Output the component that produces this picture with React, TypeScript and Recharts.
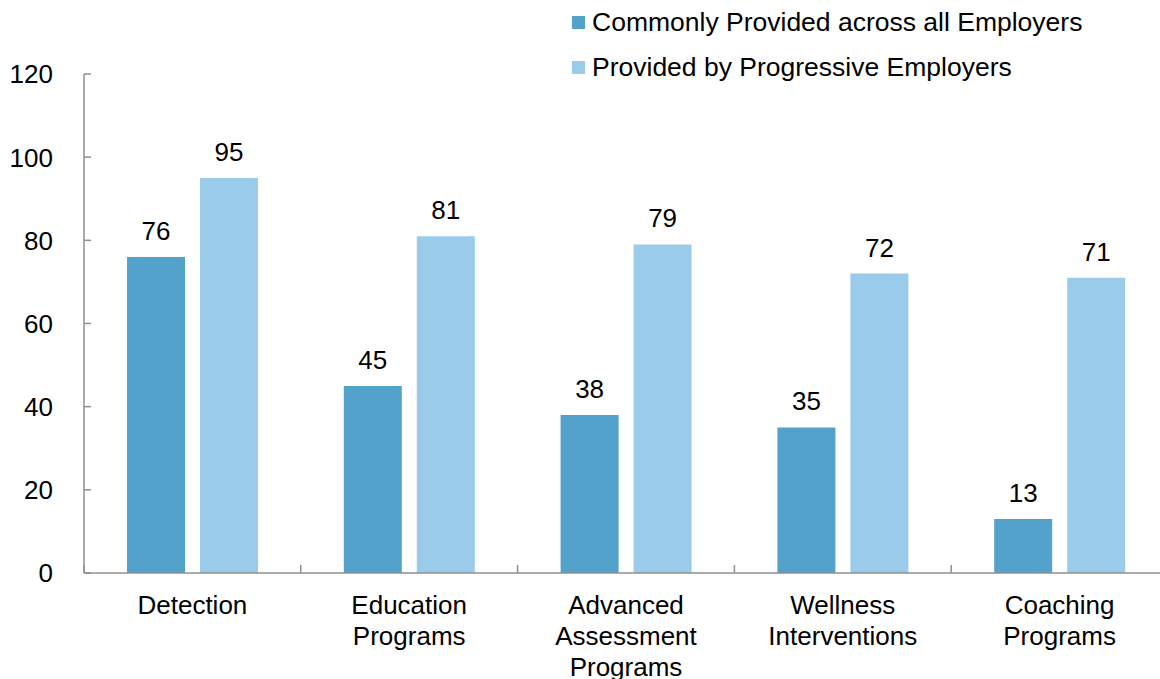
import { BarChart, Bar, XAxis, YAxis, Legend, LabelList } from 'recharts'

const categories = [
  'Detection',
  'Education\nPrograms',
  'Advanced\nAssessment\nPrograms',
  'Wellness\nInterventions',
  'Coaching\nPrograms',
]
const commonValues = [76, 45, 38, 35, 13]
const progressiveValues = [95, 81, 79, 72, 71]
const yTicks = [0, 20, 40, 60, 80, 100, 120]

const COMMON = '#52A2CC'
const PROGRESSIVE = '#9BCBEB'
const AXIS = '#8f8f8f'
const FONT = '"Liberation Sans", Arial, sans-serif'
const AXIS_X = 84
const BAND = 216.8

const data = categories.map((name, i) => ({
  name,
  common: commonValues[i],
  progressive: progressiveValues[i],
}))

function YTick({ y, payload }: any) {
  return (
    <g>
      <line x1={AXIS_X} x2={AXIS_X + 7} y1={y} y2={y} stroke={AXIS} strokeWidth={1.5} />
      <text x={53} y={y} dy="0.36em" textAnchor="end" fontSize={26} fill="#000" fontFamily={FONT}>
        {payload.value}
      </text>
    </g>
  )
}

// y here is the axis line + 8 (default tick size + margin)
function XTick({ x, y, payload }: any) {
  const lines = String(payload.value).split('\n')
  const left = x - BAND / 2
  const axisY = y - 8
  return (
    <g>
      <line x1={left} x2={left} y1={axisY} y2={axisY - 8} stroke={AXIS} strokeWidth={1.5} />
      <text x={x} y={axisY + 41} textAnchor="middle" fontSize={26} fill="#000" fontFamily={FONT}>
        {lines.map((l, i) => (
          <tspan key={i} x={x} dy={i === 0 ? 0 : 31}>
            {l}
          </tspan>
        ))}
      </text>
    </g>
  )
}

function LegendBox({ payload }: any) {
  return (
    <div style={{ fontFamily: FONT, fontSize: 26.5, color: '#000' }}>
      {(payload || []).map((p: any) => (
        <div key={p.value} style={{ height: 45, display: 'flex', alignItems: 'center', whiteSpace: 'nowrap' }}>
          <span style={{ width: 13, height: 13, background: p.color, display: 'inline-block', marginRight: 7 }} />
          <span>{p.value}</span>
        </div>
      ))}
    </div>
  )
}

export default function App() {
  return (
    <div style={{ position: 'absolute', left: 0, top: 0, width: 1160, height: 679, overflow: 'hidden', background: '#fff' }}>
      <BarChart
        width={1168}
        height={679}
        data={data}
        margin={{ top: 74, right: 0, bottom: 0, left: 0 }}
        barSize={58}
        barGap={15}
      >
        <XAxis
          dataKey="name"
          height={106}
          interval={0}
          tickLine={false}
          axisLine={{ stroke: AXIS, strokeWidth: 1.5 }}
          tick={<XTick />}
        />
        <YAxis
          width={AXIS_X}
          domain={[0, 120]}
          ticks={yTicks}
          tickLine={false}
          axisLine={{ stroke: AXIS, strokeWidth: 1.5 }}
          tick={<YTick />}
        />
        <Legend
          layout="horizontal"
          align="center"
          verticalAlign="middle"
          content={<LegendBox />}
          wrapperStyle={{ position: 'absolute', left: 572, top: 0, width: 590 }}
        />
        <Bar dataKey="common" name="Commonly Provided across all Employers" fill={COMMON} isAnimationActive={false}>
          <LabelList dataKey="common" position="top" offset={17} fontSize={26} fill="#000" fontFamily={FONT} />
        </Bar>
        <Bar dataKey="progressive" name="Provided by Progressive Employers" fill={PROGRESSIVE} isAnimationActive={false}>
          <LabelList dataKey="progressive" position="top" offset={17} fontSize={26} fill="#000" fontFamily={FONT} />
        </Bar>
      </BarChart>
    </div>
  )
}
